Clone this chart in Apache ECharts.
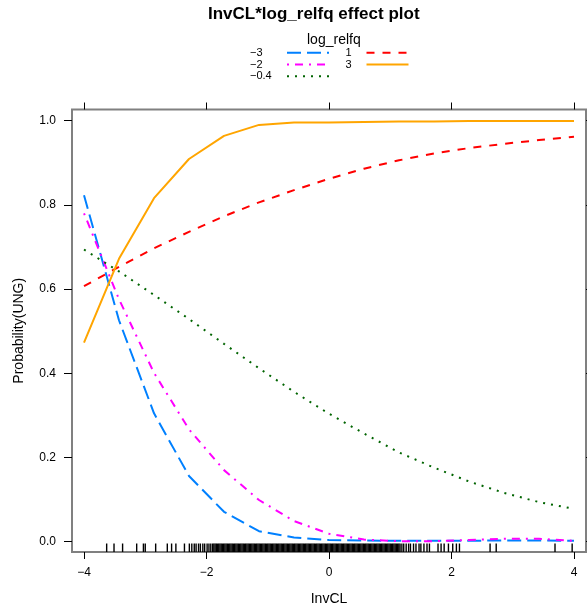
<!DOCTYPE html>
<html>
<head>
<meta charset="utf-8">
<script src="https://cdn.jsdelivr.net/npm/echarts@6/dist/echarts.min.js"></script>
<style>
html,body{margin:0;padding:0;background:#fff;}
#chart{width:587px;height:607px;}
</style>
</head>
<body>
<div id="chart"></div>
<script>
// ---- data ----
const invCL = [-4, -3.429, -2.857, -2.286, -1.714, -1.143, -0.571, 0, 0.571, 1.143, 1.714, 2.286, 2.857, 3.429, 4];
const pNeg3   = [0.823, 0.526, 0.305, 0.156, 0.071, 0.025, 0.010, 0.004, 0.003, 0.002, 0.002, 0.002, 0.003, 0.003, 0.002];
const pNeg2   = [0.780, 0.576, 0.401, 0.267, 0.170, 0.099, 0.049, 0.019, 0.005, 0.001, 0.001, 0.004, 0.007, 0.007, 0.002];
const pNeg04  = [0.694, 0.642, 0.586, 0.529, 0.470, 0.412, 0.356, 0.304, 0.257, 0.212, 0.176, 0.143, 0.116, 0.094, 0.078];
const pPos1   = [0.607, 0.653, 0.697, 0.736, 0.773, 0.806, 0.835, 0.862, 0.886, 0.906, 0.922, 0.935, 0.945, 0.954, 0.962];
const pPos3   = [0.473, 0.672, 0.816, 0.909, 0.964, 0.990, 0.996, 0.996, 0.997, 0.998, 0.998, 0.999, 0.999, 0.999, 0.999];
const levelNames = ['\u22123', '\u22122', '\u22120.4', '1', '3'];
const xTicks = [-4, -2, 0, 2, 4];
const xTickLabels = ['\u22124', '\u22122', '0', '2', '4'];
const yTicks = [0, 0.2, 0.4, 0.6, 0.8, 1.0];
const yTickLabels = ['0.0', '0.2', '0.4', '0.6', '0.8', '1.0'];
const rug = [
  -3.63, -3.51, -3.37, -3.14, -3.03, -3.0, -2.83, -2.64, -2.57, -2.5, -2.36, -2.28,
  -2.24, -2.2, -2.17, -2.13, -2.1, -2.06, -2.03, -1.99, -1.96, -1.93,
  -1.9, -1.88, -1.86, -1.84, -1.82, -1.8, -1.78, -1.76, -1.74, -1.72, -1.7, -1.68, -1.66, -1.64, -1.62, -1.6,
  -1.58, -1.56, -1.54, -1.52, -1.5, -1.48, -1.46, -1.44, -1.42, -1.4, -1.38, -1.36, -1.34, -1.32, -1.3,
  -1.28, -1.26, -1.24, -1.22, -1.2, -1.18, -1.16, -1.14, -1.12, -1.1, -1.08, -1.06, -1.04, -1.02, -1.0,
  -0.98, -0.96, -0.94, -0.92, -0.9, -0.88, -0.86, -0.84, -0.82, -0.8, -0.78, -0.76, -0.74, -0.72, -0.7,
  -0.68, -0.66, -0.64, -0.62, -0.6, -0.58, -0.56, -0.54, -0.52, -0.5, -0.48, -0.46, -0.44, -0.42, -0.4,
  -0.38, -0.36, -0.34, -0.32, -0.3, -0.28, -0.26, -0.24, -0.22, -0.2, -0.18, -0.16, -0.14, -0.12, -0.1,
  -0.08, -0.06, -0.04, -0.02, 0.0, 0.02, 0.04, 0.06, 0.08, 0.1, 0.12, 0.14, 0.16, 0.18, 0.2,
  0.22, 0.24, 0.26, 0.28, 0.3, 0.32, 0.34, 0.36, 0.38, 0.4, 0.42, 0.44, 0.46, 0.48, 0.5,
  0.52, 0.54, 0.56, 0.58, 0.6, 0.62, 0.64, 0.66, 0.68, 0.7, 0.72, 0.74, 0.76, 0.78, 0.8,
  0.82, 0.84, 0.86, 0.88, 0.9, 0.92, 0.94, 0.96, 0.98, 1.0, 1.02, 1.04, 1.06, 1.08, 1.1, 1.12, 1.14, 1.16,
  1.19, 1.22, 1.26, 1.3, 1.33, 1.38, 1.42, 1.47, 1.5, 1.55, 1.6, 1.64,
  1.78, 1.83, 1.88, 1.95, 2.02, 2.08, 2.13,
  2.63, 2.73, 3.69, 3.97
];

// ---- styling ----
const colors = ['#0080ff', '#ff00ff', '#006400', '#ff0000', '#ffa500'];
const dashes = [[14, 6], [2, 6, 8, 6], [2, 6], [8, 8], 'solid'];
const values = [pNeg3, pNeg2, pNeg04, pPos1, pPos3];
const X_MIN = -4.196, X_MAX = 4.196, Y_MIN = -0.0245, Y_MAX = 1.0266;
const FONT = 'Liberation Sans, Arial, Helvetica, sans-serif';

const chart = echarts.init(document.getElementById('chart'), null, {renderer: 'canvas'});

const lineSeries = levelNames.map((name, i) => ({
  name: name,
  type: 'line',
  xAxisIndex: 0,
  yAxisIndex: 0,
  symbol: 'none',
  animation: false,
  color: colors[i],
  lineStyle: {color: colors[i], width: 2, type: dashes[i], cap: 'butt'},
  data: invCL.map((x, j) => [x, values[i][j]]),
  z: 3
}));

const rugSeries = {
  type: 'custom',
  xAxisIndex: 0,
  yAxisIndex: 0,
  animation: false,
  silent: true,
  data: rug.map(v => [v, Y_MIN]),
  renderItem: function (params, api) {
    const p = api.coord([api.value(0), api.value(1)]);
    return {
      type: 'line',
      shape: {x1: p[0], y1: p[1], x2: p[0], y2: p[1] - 8.5},
      style: {stroke: '#000', lineWidth: 1.4}
    };
  },
  z: 2
};

const tickStyle = {show: true, length: 7, lineStyle: {color: '#000', width: 1}};
const noLine = {show: false, onZero: false};

function legendCfg(names, left, textWidth) {
  return {
    data: names, orient: 'vertical', left: left, top: 47, align: 'right',
    itemWidth: 42, itemHeight: 11.7, itemGap: 0, padding: 0,
    itemStyle: {opacity: 0},
    formatter: n => '{l|' + n + '}',
    textStyle: {fontSize: 11, color: '#000', width: textWidth, lineHeight: 11.7, fontFamily: FONT,
                rich: {l: {align: 'left', fontSize: 11, color: '#000', fontFamily: FONT}}},
    selectedMode: false
  };
}

chart.setOption({
  backgroundColor: '#fff',
  animation: false,
  textStyle: {fontFamily: FONT},
  title: [
    {text: 'InvCL*log_relfq effect plot', left: 203, top: 1,
     textStyle: {fontSize: 17, fontWeight: 'bold', color: '#000', fontFamily: FONT}},
    {text: 'log_relfq', left: 302, top: 28,
     textStyle: {fontSize: 14, fontWeight: 'normal', color: '#000', fontFamily: FONT}}
  ],
  legend: [
    legendCfg(levelNames.slice(0, 3), 250, 32),
    legendCfg(levelNames.slice(3), 345.5, 16)
  ],
  grid: {left: 72, right: 1, top: 109.5, bottom: 55, show: true, borderColor: '#808080', borderWidth: 2,
         backgroundColor: 'transparent', containLabel: false, outerBoundsMode: 'none'},
  xAxis: [
    {type: 'value', position: 'bottom', min: X_MIN, max: X_MAX,
     name: 'InvCL', nameLocation: 'middle', nameGap: 40,
     nameTextStyle: {fontSize: 14, color: '#000', fontFamily: FONT},
     axisLine: noLine, splitLine: {show: false},
     axisTick: Object.assign({customValues: xTicks}, tickStyle),
     axisLabel: {customValues: xTicks, margin: 15, fontSize: 12, color: '#000', fontFamily: FONT,
                 formatter: v => xTickLabels[xTicks.indexOf(Math.round(v))]}},
    {type: 'value', position: 'top', min: X_MIN, max: X_MAX,
     axisLine: noLine, splitLine: {show: false},
     axisTick: Object.assign({customValues: xTicks}, tickStyle),
     axisLabel: {show: false}}
  ],
  yAxis: [
    {type: 'value', position: 'left', min: Y_MIN, max: Y_MAX,
     name: 'Probability(UNG)', nameLocation: 'middle', nameGap: 46, nameRotate: 90,
     nameTextStyle: {fontSize: 14, color: '#000', fontFamily: FONT},
     axisLine: noLine, splitLine: {show: false},
     axisTick: Object.assign({customValues: yTicks}, tickStyle, {length: 8}),
     axisLabel: {customValues: yTicks, margin: 16, fontSize: 12, color: '#000', fontFamily: FONT,
                 formatter: v => yTickLabels[Math.round(v * 5)]}},
    {type: 'value', position: 'right', min: Y_MIN, max: Y_MAX,
     axisLine: noLine, splitLine: {show: false},
     axisTick: Object.assign({customValues: yTicks}, tickStyle),
     axisLabel: {show: false}}
  ],
  series: lineSeries.concat([rugSeries])
});
</script>
</body>
</html>
